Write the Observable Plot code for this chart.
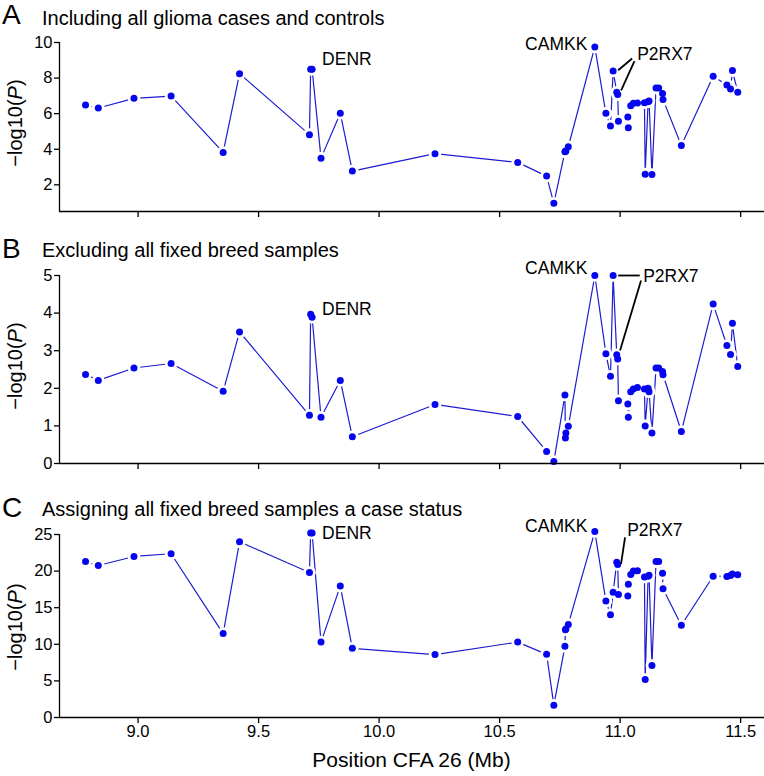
<!DOCTYPE html>
<html><head><meta charset="utf-8">
<script src="https://cdn.jsdelivr.net/npm/d3@7"></script>
<script src="https://cdn.jsdelivr.net/npm/@observablehq/plot@0.6"></script>
<style>
body{margin:0;background:#fff;}
#wrap{position:relative;width:764px;height:776px;overflow:hidden;font-family:"Liberation Sans",Arial,sans-serif;}
#wrap > svg{position:absolute;left:0;}
</style></head><body><div id="wrap"></div>
<script>
// SNP positions on CFA 26 (Mb)
const positions = [8.782, 8.835, 8.983, 9.137, 9.353, 9.421, 9.711, 9.716, 9.722, 9.759,
  9.839, 9.889, 10.232, 10.575, 10.695, 10.725, 10.771, 10.773, 10.775, 10.785,
  10.895, 10.941, 10.960, 10.971, 10.986, 10.990, 10.993, 11.032, 11.034, 11.044,
  11.055, 11.072, 11.101, 11.104, 11.116, 11.120, 11.132, 11.149, 11.160, 11.176,
  11.178, 11.254, 11.386, 11.443, 11.458, 11.466, 11.488];
// -log10(P), panel A: all glioma cases and controls
const valuesA = [6.48, 6.32, 6.86, 6.99, 3.82, 8.25, 4.82, 8.5, 8.5, 3.5,
  6.02, 2.77, 3.75, 3.26, 2.49, 0.96, 3.86, 3.88, 3.9, 4.14,
  9.75, 6.02, 5.3, 8.4, 7.2, 7.07, 5.57, 5.81, 5.21, 6.45,
  6.58, 6.6, 6.62, 2.6, 6.67, 6.71, 2.58, 7.44, 7.44, 7.13,
  6.79, 4.21, 8.1, 7.61, 7.39, 8.42, 7.2];
// panel B: excluding fixed breed samples
const valuesB = [2.37, 2.21, 2.54, 2.66, 1.92, 3.5, 1.28, 3.97, 3.89, 1.23,
  2.21, 0.71, 1.57, 1.25, 0.32, 0.05, 1.82, 0.68, 0.81, 0.99,
  5.0, 2.92, 2.32, 5.0, 2.89, 2.78, 1.67, 1.58, 1.23, 1.91,
  1.98, 2.02, 1.98, 1.0, 2.0, 1.91, 0.81, 2.54, 2.54, 2.45,
  2.36, 0.85, 4.24, 3.14, 2.9, 3.73, 2.58];
// panel C: fixed breed samples assigned case status
const valuesC = [21.3, 20.77, 22.0, 22.37, 11.46, 24.0, 19.8, 25.2, 25.2, 10.3,
  17.95, 9.45, 8.6, 10.3, 8.63, 1.68, 9.72, 12.0, 12.1, 12.72,
  25.4, 15.9, 14.05, 17.1, 21.2, 20.9, 16.8, 16.6, 18.2, 19.55,
  20.0, 20.05, 19.2, 5.2, 19.3, 19.45, 7.1, 21.3, 21.3, 19.7,
  17.6, 12.6, 19.3, 19.27, 19.4, 19.6, 19.5];

const panelLetters = ["A", "B", "C"];
const panelTitles = ["Including all glioma cases and controls",
  "Excluding all fixed breed samples",
  "Assigning all fixed breed samples a case status"];
const xTicks = [9.0, 9.5, 10.0, 10.5, 11.0, 11.5];
const yTicksA = [2, 4, 6, 8, 10];
const yTicksB = [0, 1, 2, 3, 4, 5];
const yTicksC = [0, 5, 10, 15, 20, 25];
const geneNames = ["DENR", "CAMKK", "P2RX7"];
const geneSnpIndex = [8, 20, 23];
const xLabel = "Position CFA 26 (Mb)";

const FONT = '"Liberation Sans", Arial, sans-serif';
const DOT = "#0606ee";
const LINE = "#1c1cd0";
const W = 764, ML = 59, MR = 0;
const xDomain = [8.674, 11.599];

function panel(cfg) {
  const vals = cfg.values;
  const data = positions.map((x, i) => ({x, y: vals[i]}));
  const kx = (W - ML - MR) / (xDomain[1] - xDomain[0]);
  const ky = (cfg.height - cfg.mt - cfg.mb) / (cfg.yDomain[1] - cfg.yDomain[0]);
  const leaders = cfg.leaders.map(([i, a, b, c, d]) => ({
    x1: positions[i] + a / kx, y1: vals[i] - b / ky,
    x2: positions[i] + c / kx, y2: vals[i] - d / ky}));
  const labelMarks = geneNames.map((g, k) => {
    const i = geneSnpIndex[k];
    const [dx, dy, anchor] = cfg.labelOffsets[k];
    return Plot.text([{x: positions[i], y: vals[i], t: g}], {
      x: "x", y: "y", text: "t", dx, dy, textAnchor: anchor,
      fontSize: 17.5, fill: "black", lineAnchor: "middle"});
  });
  return Plot.plot({
    width: W, height: cfg.height,
    marginLeft: ML, marginRight: MR, marginTop: cfg.mt, marginBottom: cfg.mb,
    x: {domain: xDomain},
    y: {domain: cfg.yDomain},
    style: {fontFamily: FONT, fontSize: "16.5px", background: "transparent", color: "#000", overflow: "visible"},
    marks: [
      Plot.line(data, {x: "x", y: "y", stroke: LINE, strokeWidth: 1.2}),
      Plot.dot(data, {x: "x", y: "y", r: 6.3, fill: "white", stroke: null}),
      Plot.dot(data, {x: "x", y: "y", r: 3.5, fill: DOT, stroke: null}),
      Plot.link(leaders, {x1: "x1", y1: "y1", x2: "x2", y2: "y2", stroke: "black", strokeWidth: 1.8}),
      ...labelMarks,
      Plot.axisY({ticks: cfg.yTicks, tickSize: 5, tickPadding: 2, label: null, strokeWidth: 1.3, tickFormat: d => String(d)}),
      Plot.axisX({ticks: xTicks, tickSize: 6, tickPadding: 2, label: null, strokeWidth: 1.3,
        tickFormat: cfg.showX ? d3.format(".1f") : () => ""}),
      Plot.ruleX([xDomain[0]], {strokeWidth: 1.3}),
      Plot.ruleY([cfg.yDomain[0]], {strokeWidth: 1.3})
    ]
  });
}

const wrap = document.getElementById("wrap");
const panels = [
  {top: 30, height: 190, mt: 12, mb: 9, yDomain: [0.5, 10], values: valuesA, yTicks: yTicksA, showX: false,
   labelOffsets: [[10, -10, "start"], [-7.5, -3, "end"], [24, -17, "start"]],
   leaders: [[23, 19, -12.4, 5, -0.7], [24, 17.7, -31.3, 4.4, -2]]},
  {top: 262, height: 210, mt: 13, mb: 9, yDomain: [0, 5], values: valuesB, yTicks: yTicksB, showX: false,
   labelOffsets: [[10, -8, "start"], [-7.5, -7.5, "end"], [30, 1, "start"]],
   leaders: [[23, 5, 0, 26.6, 0], [24, 24.3, -74.3, 3.3, -4.3]]},
  {top: 522, height: 254, mt: 12, mb: 59, yDomain: [0, 25], values: valuesC, yTicks: yTicksC, showX: true,
   labelOffsets: [[10, 0, "start"], [-7.5, -5.5, "end"], [14, -62, "start"]],
   leaders: [[24, 8.3, -25, 4.3, 1.6]]}
];
panels.forEach(p => {
  const svg = panel(p);
  svg.style.top = p.top + "px";
  wrap.appendChild(svg);
});

// overlay text: panel letters, titles, axis labels
const ov = d3.select(wrap).append("svg").attr("width", W).attr("height", 776)
  .style("top", "0px").style("font-family", FONT);
const letterBase = [24, 258, 517];
const titleBase = [24.5, 257, 516];
const yLabelCenter = [123, 366, 627];
panelLetters.forEach((L, k) => {
  ov.append("text").attr("x", 2).attr("y", letterBase[k]).attr("font-size", 28).text(L);
  ov.append("text").attr("x", 42).attr("y", titleBase[k]).attr("font-size", 20).text(panelTitles[k]);
  const t = ov.append("text").attr("transform", `translate(15,${yLabelCenter[k]}) rotate(-90)`)
    .attr("text-anchor", "middle").attr("dominant-baseline", "central").attr("font-size", 20);
  t.append("tspan").text("\u2212log10(");
  t.append("tspan").attr("font-style", "italic").text("P");
  t.append("tspan").text(")");
});
ov.append("text").attr("x", 411.5).attr("y", 767).attr("text-anchor", "middle").attr("font-size", 21).text(xLabel);
</script></body></html>
